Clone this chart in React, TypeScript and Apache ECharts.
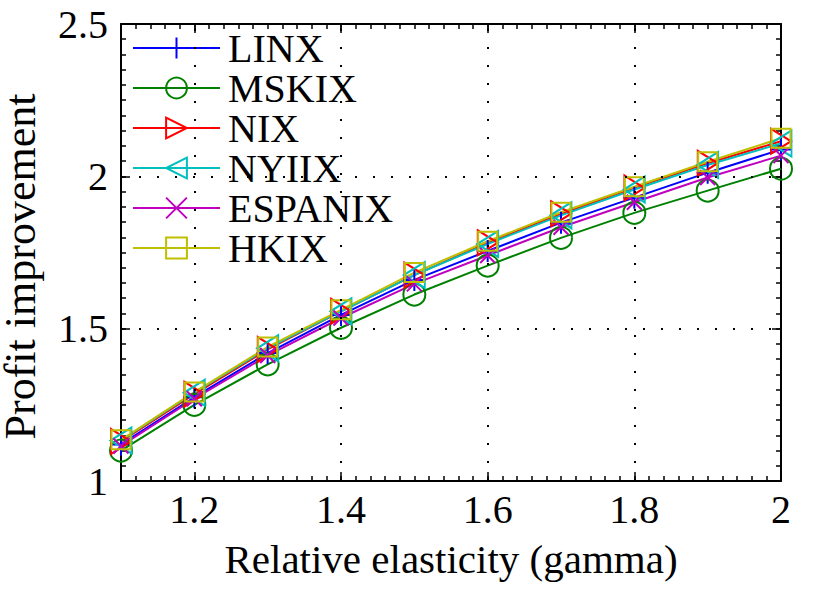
import React, { useEffect, useRef } from "react";
import * as echarts from "echarts";

const gammas = [1.1, 1.2, 1.3, 1.4, 1.5, 1.6, 1.7, 1.8, 1.9, 2.0];
const seriesNames = ["LINX", "MSKIX", "NIX", "NYIIX", "ESPANIX", "HKIX"];
const LINX = [1.12, 1.275, 1.42, 1.545, 1.66, 1.755, 1.848, 1.93, 2.012, 2.088];
const MSKIX = [1.1, 1.25, 1.383, 1.503, 1.612, 1.707, 1.798, 1.88, 1.953, 2.025];
const NIX = [1.13, 1.285, 1.432, 1.557, 1.676, 1.782, 1.877, 1.962, 2.043, 2.115];
const NYIIX = [1.133, 1.29, 1.436, 1.557, 1.676, 1.778, 1.872, 1.957, 2.037, 2.108];
const ESPANIX = [1.115, 1.27, 1.412, 1.535, 1.647, 1.74, 1.833, 1.915, 1.996, 2.068];
const HKIX = [1.135, 1.292, 1.44, 1.562, 1.684, 1.787, 1.882, 1.966, 2.048, 2.125];
const seriesValues = [LINX, MSKIX, NIX, NYIIX, ESPANIX, HKIX];

const xLabelTicks = [1.2, 1.4, 1.6, 1.8, 2];
const yLabelTicks = [1, 1.5, 2, 2.5];
const xGridLines = [1.2, 1.4, 1.6, 1.8];
const yGridLines = [1.5, 2];

const colors = ["#0000ff", "#008000", "#ff0000", "#00bfbf", "#bf00bf", "#bfbf00"];
const symbols = [
  "path://M10,0 L10,20 M0,10 L20,10",
  "circle",
  "path://M0,0 L17,10 L0,20 Z",
  "path://M17,0 L0,10 L17,20 Z",
  "path://M0,0 L20,20 M20,0 L0,20",
  "rect",
];
const symbolSizes: any[] = [22, 22, [20, 25], [21, 26], 15, 19];

const FONT = "Liberation Serif";

export default function App() {
  const ref = useRef<HTMLDivElement>(null);
  useEffect(() => {
    if (!ref.current) return;
    const chart = echarts.init(ref.current, null, { renderer: "svg" });
    const axisLine = { show: true, lineStyle: { color: "#000", width: 2 } };
    const baseX = {
      type: "value",
      min: 1.1,
      max: 2,
      interval: 0.02,
      axisLine,
      splitLine: { show: false },
    };
    const baseY = {
      type: "value",
      min: 1,
      max: 2.5,
      interval: 0.05,
      axisLine,
      splitLine: { show: false },
    };
    const minorTick = { show: true, inside: true, length: 5, lineStyle: { color: "#000", width: 1.5 } };
    const noLabel = { show: false };
    const majorTickX = { show: true, inside: true, length: 9, customValues: xLabelTicks, lineStyle: { color: "#000", width: 1.5 } };
    const majorTickY = { show: true, inside: true, length: 9, customValues: yLabelTicks, lineStyle: { color: "#000", width: 1.5 } };

    const option: any = {
      animation: false,
      backgroundColor: "#fff",
      textStyle: { fontFamily: FONT },
      grid: { left: 121, right: 49, top: 24, bottom: 111, containLabel: false, outerBoundsMode: "none" },
      legend: {
        data: seriesNames,
        orient: "vertical",
        left: 132,
        top: 28,
        padding: 0,
        itemWidth: 87,
        itemHeight: 26,
        itemGap: 0,
        textStyle: { fontSize: 40, fontFamily: FONT, color: "#000", padding: [0, 0, 0, 3] },
      },
      xAxis: [
        {
          ...baseX,
          position: "bottom",
          axisTick: minorTick,
          axisLabel: {
            show: true,
            customValues: xLabelTicks,
            fontSize: 40,
            fontFamily: FONT,
            color: "#000",
            margin: 8,
            formatter: (v: number) => String(Math.round(v * 10) / 10),
          },
          name: "Relative elasticity (gamma)",
          nameLocation: "middle",
          nameGap: 57,
          nameTextStyle: { fontSize: 41, fontFamily: FONT, color: "#000" },
        },
        { ...baseX, position: "top", axisTick: minorTick, axisLabel: noLabel },
        { ...baseX, position: "bottom", axisLine: { show: false }, axisTick: majorTickX, axisLabel: noLabel },
        { ...baseX, position: "top", axisLine: { show: false }, axisTick: majorTickX, axisLabel: noLabel },
      ],
      yAxis: [
        {
          ...baseY,
          position: "left",
          axisTick: minorTick,
          axisLabel: {
            show: true,
            customValues: yLabelTicks,
            fontSize: 40,
            fontFamily: FONT,
            color: "#000",
            margin: 13,
            formatter: (v: number) => String(Math.round(v * 10) / 10),
          },
          name: "Profit improvement",
          nameLocation: "middle",
          nameGap: 79,
          nameTextStyle: { fontSize: 44, fontFamily: FONT, color: "#000", padding: [0, 28, 0, 0] },
        },
        { ...baseY, position: "right", axisTick: minorTick, axisLabel: noLabel },
        { ...baseY, position: "left", axisLine: { show: false }, axisTick: majorTickY, axisLabel: noLabel },
        { ...baseY, position: "right", axisLine: { show: false }, axisTick: majorTickY, axisLabel: noLabel },
      ],
      series: [
        {
          name: "_grid",
          type: "line",
          data: [],
          silent: true,
          markLine: {
            silent: true,
            symbol: "none",
            label: { show: false },
            lineStyle: { color: "#000", width: 2, type: [2, 16] },
            data: [
              ...xGridLines.map((v) => ({ xAxis: v })),
              ...yGridLines.map((v) => ({ yAxis: v })),
            ],
          },
        },
        ...seriesNames.map((name, i) => ({
          name,
          type: "line",
          data: gammas.map((g, j) => [g, seriesValues[i][j]]),
          symbol: symbols[i],
          symbolSize: symbolSizes[i],
          showAllSymbol: true,
          lineStyle: { color: colors[i], width: 2 },
          itemStyle: { color: "rgba(0,0,0,0)", borderColor: colors[i], borderWidth: 2 },
        })),
      ],
    };
    chart.setOption(option);
    return () => chart.dispose();
  }, []);
  return <div ref={ref} style={{ width: 830, height: 592, position: "absolute", left: 0, top: 0 }} />;
}
